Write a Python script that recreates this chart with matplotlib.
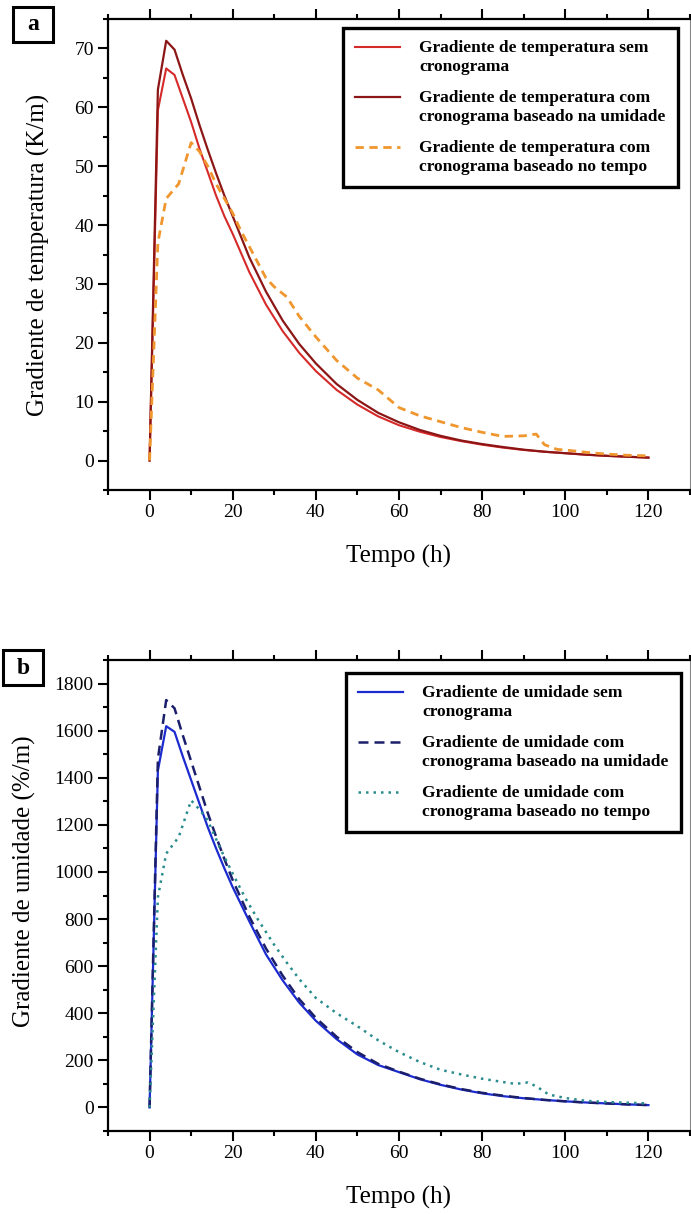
import matplotlib
matplotlib.use('Agg')
import matplotlib.pyplot as plt
from matplotlib.lines import Line2D
from matplotlib.patches import Rectangle
from matplotlib.legend_handler import HandlerLine2D
from matplotlib.ticker import MultipleLocator

plt.rcParams['font.family'] = ['Liberation Serif', 'DejaVu Serif']

# tempo (h) das curvas sem cronograma / com cronograma baseado na umidade
t_suave = [0, 2, 4, 6, 8, 10, 12, 14, 16, 18, 20, 24, 28, 32, 36, 40, 45, 50, 55, 60,
           65, 70, 75, 80, 85, 90, 95, 100, 105, 110, 115, 120]

# gradiente de temperatura (K/m)
grad_temp_sem = [0, 59.5, 66.6, 65.5, 61.5, 57.5, 53, 49, 45, 41.5, 38.5, 32, 26.5, 22,
                 18.3, 15.2, 12, 9.5, 7.5, 6.0, 4.9, 4.0, 3.3, 2.7, 2.2, 1.8, 1.5, 1.25,
                 1.0, 0.8, 0.65, 0.5]
grad_temp_umid = [0, 63, 71.3, 69.8, 65.5, 61.5, 57, 52.8, 48.8, 45, 41.5, 34.5, 28.7,
                  23.8, 19.8, 16.5, 13, 10.3, 8.1, 6.5, 5.2, 4.2, 3.4, 2.8, 2.3, 1.85,
                  1.5, 1.25, 1.0, 0.8, 0.65, 0.5]
t_temp_tempo = [0, 2, 4, 7, 10, 12, 14, 16, 18, 20, 22, 25, 28, 30, 33, 36, 40, 45, 50,
                55, 60, 65, 70, 75, 80, 85, 90, 93, 95, 98, 100, 105, 110, 115, 120]
grad_temp_tempo = [0, 37, 44.5, 47, 54, 52.5, 50, 47, 44.5, 42, 39, 35, 31, 29.5, 27.8,
                   24.5, 21, 17, 14, 12, 9, 7.6, 6.6, 5.6, 4.8, 4.1, 4.2, 4.5, 2.7, 1.9,
                   1.8, 1.4, 1.1, 0.9, 0.8]

# gradiente de umidade (%/m)
grad_umid_sem = [0, 1430, 1619, 1595, 1490, 1390, 1290, 1190, 1100, 1015, 935, 790, 650,
                 540, 445, 368, 290, 225, 180, 150, 120, 96, 76, 60, 48, 39, 32, 26, 21,
                 17, 13, 10]
grad_umid_umid = [0, 1480, 1730, 1695, 1580, 1470, 1360, 1250, 1150, 1055, 965, 810, 675,
                  560, 460, 380, 300, 235, 185, 152, 122, 98, 78, 62, 50, 40, 32, 26, 21,
                  17, 13, 10]
t_umid_tempo = [0, 2, 4, 7, 10, 12, 14, 17, 20, 23, 26, 30, 33, 36, 40, 45, 50, 55, 60,
                65, 70, 75, 80, 85, 88, 91, 93, 96, 100, 105, 110, 115, 120]
grad_umid_tempo = [0, 893, 1078, 1148, 1304, 1265, 1219, 1100, 993, 890, 800, 690, 615,
                   545, 465, 400, 345, 285, 235, 193, 160, 140, 122, 108, 100, 106, 90,
                   55, 40, 28, 23, 20, 17]

legendas_temp = ['Gradiente de temperatura sem\ncronograma',
                 'Gradiente de temperatura com\ncronograma baseado na umidade',
                 'Gradiente de temperatura com\ncronograma baseado no tempo']
legendas_umid = ['Gradiente de umidade sem\ncronograma',
                 'Gradiente de umidade com\ncronograma baseado na umidade',
                 'Gradiente de umidade com\ncronograma baseado no tempo']


class HandlerPrimeiraLinha(HandlerLine2D):
    """Put the legend line next to the first text line instead of the middle."""
    def create_artists(self, legend, orig_handle, xdescent, ydescent, width, height,
                       fontsize, trans):
        desloc = 0.6 * fontsize
        return super().create_artists(legend, orig_handle, xdescent, ydescent - 2 * desloc,
                                      width, height, fontsize, trans)


def estilo_eixo(ax, ymaior, ymenor):
    ax.set_xlim(-10, 130)
    ax.xaxis.set_major_locator(MultipleLocator(20))
    ax.xaxis.set_minor_locator(MultipleLocator(10))
    ax.yaxis.set_major_locator(MultipleLocator(ymaior))
    ax.yaxis.set_minor_locator(MultipleLocator(ymenor))
    ax.tick_params(which='both', direction='out', width=1.5, labelsize=14,
                   top=True, right=False, pad=3)
    ax.tick_params(which='major', length=7.2)
    ax.tick_params(which='minor', length=3.6)
    for lado in ['left', 'bottom', 'top']:
        ax.spines[lado].set_linewidth(1.6)
    ax.spines['right'].set_linewidth(0.8)
    ax.spines['right'].set_color('#888888')


def legenda(ax, ancora):
    leg = ax.legend(handler_map={Line2D: HandlerPrimeiraLinha()}, loc='upper right',
                    bbox_to_anchor=ancora, borderaxespad=0, fancybox=False,
                    edgecolor='black', framealpha=1,
                    prop={'weight': 'bold', 'size': 12.5},
                    handlelength=2.6, handletextpad=1.1, borderpad=0.7, labelspacing=0.9)
    leg.get_frame().set_linewidth(2.4)


fig = plt.figure(figsize=(6.91, 12.14), dpi=100)
ax_a = fig.add_axes([108 / 691, 1 - 490 / 1214, 582 / 691, 471 / 1214])
ax_b = fig.add_axes([108 / 691, 1 - 1131 / 1214, 582 / 691, 471 / 1214])

# (a) temperatura
ax_a.plot(t_suave, grad_temp_sem, color='#d62a2a', lw=1.5, label=legendas_temp[0])
ax_a.plot(t_suave, grad_temp_umid, color='#8c1616', lw=1.6, label=legendas_temp[1])
ax_a.plot(t_temp_tempo, grad_temp_tempo, color='#f0962e', lw=2.0, dashes=(3, 2),
          label=legendas_temp[2])
ax_a.set_ylim(-5, 75)
estilo_eixo(ax_a, 10, 5)
ax_a.set_xlabel('Tempo (h)', fontsize=18)
ax_a.set_ylabel('Gradiente de temperatura (K/m)', fontsize=18)
ax_a.xaxis.set_label_coords(0.5, -0.116)
ax_a.yaxis.set_label_coords(-0.1, 0.5)
legenda(ax_a, (0.979, 0.981))

# (b) umidade
ax_b.plot(t_suave, grad_umid_sem, color='#1c2bd0', lw=1.6, label=legendas_umid[0])
ax_b.plot(t_suave, grad_umid_umid, color='#1b1f6b', lw=1.8, dashes=(4, 2.4),
          label=legendas_umid[1])
ax_b.plot(t_umid_tempo, grad_umid_tempo, color='#2a8c8c', lw=1.8, dashes=(1, 2),
          label=legendas_umid[2])
ax_b.set_ylim(-100, 1900)
estilo_eixo(ax_b, 200, 100)
ax_b.set_xlabel('Tempo (h)', fontsize=18)
ax_b.set_ylabel('Gradiente de umidade (%/m)', fontsize=18)
ax_b.xaxis.set_label_coords(0.5, -0.116)
ax_b.yaxis.set_label_coords(-0.124, 0.53)
legenda(ax_b, (0.9845, 0.972))

# panel letters
for letra, x0, y0 in [('a', 13, 7), ('b', 3, 650)]:
    fig.patches.append(Rectangle((x0 / 691, 1 - (y0 + 35) / 1214), 40 / 691, 35 / 1214,
                                 transform=fig.transFigure, fill=False, lw=2.2,
                                 edgecolor='black'))
    fig.text((x0 + 20) / 691, 1 - (y0 + 18) / 1214, letra, fontsize=17,
             fontweight='bold', ha='center', va='center')

fig.savefig('out.png', dpi=100)
